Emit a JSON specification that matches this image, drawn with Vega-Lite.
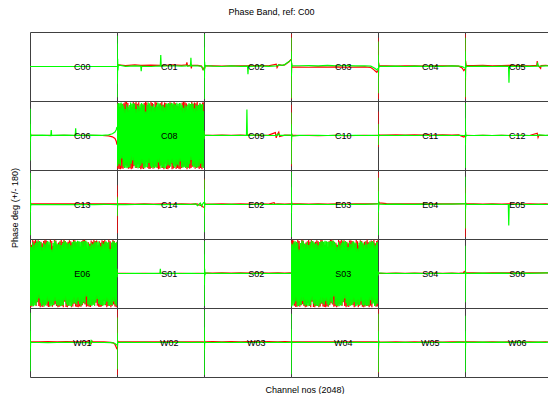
{
"$schema":"https://vega.github.io/schema/vega-lite/v6.json",
"padding":{"left":10,"top":7,"right":0,"bottom":0},
"title":{"text":"Phase Band, ref: C00","anchor":"middle","offset":5,"dx":-10},
"vconcat":[{
"title":{"text":"Phase deg (+/- 180)","orient":"left","offset":10,"anchor":"middle"},
"vconcat":[{
"title":{"text":"Channel nos (2048)","orient":"bottom","offset":8,"dx":14,"anchor":"middle"},
"data":{"values":[
{"p":"C00","c":0,"r":null,"g":0},{"p":"C00","c":700,"r":null,"g":0},{"p":"C00","c":1400,"r":null,"g":0},{"p":"C00","c":2047,"r":null,"g":0},
{"p":"C01","c":0,"r":30,"g":160},{"p":"C01","c":3,"r":-40,"g":-160},{"p":"C01","c":6,"r":20,"g":120},{"p":"C01","c":10,"r":-10,"g":-90},{"p":"C01","c":15,"r":10,"g":40},{"p":"C01","c":22,"r":6,"g":-20},{"p":"C01","c":32,"r":8,"g":8},{"p":"C01","c":200,"r":5,"g":1},{"p":"C01","c":420,"r":8,"g":3},{"p":"C01","c":560,"r":6,"g":2},{"p":"C01","c":570,"r":6,"g":-25},{"p":"C01","c":580,"r":6,"g":2},{"p":"C01","c":800,"r":7,"g":0},{"p":"C01","c":1020,"r":6,"g":3},{"p":"C01","c":1030,"r":7,"g":60},{"p":"C01","c":1040,"r":5,"g":2},{"p":"C01","c":1300,"r":8,"g":4},{"p":"C01","c":1520,"r":6,"g":2},{"p":"C01","c":1630,"r":8,"g":3},{"p":"C01","c":1645,"r":22,"g":6},{"p":"C01","c":1660,"r":4,"g":2},{"p":"C01","c":1730,"r":7,"g":3},{"p":"C01","c":1740,"r":8,"g":45},{"p":"C01","c":1750,"r":-10,"g":3},{"p":"C01","c":1760,"r":6,"g":3},{"p":"C01","c":1900,"r":6,"g":4},{"p":"C01","c":1990,"r":2,"g":1},{"p":"C01","c":2020,"r":-15,"g":-12},{"p":"C01","c":2047,"r":-5,"g":-20},
{"p":"C02","c":0,"r":60,"g":170},{"p":"C02","c":3,"r":-50,"g":-170},{"p":"C02","c":6,"r":30,"g":100},{"p":"C02","c":10,"r":-20,"g":-60},{"p":"C02","c":15,"r":10,"g":25},{"p":"C02","c":22,"r":4,"g":-10},{"p":"C02","c":32,"r":3,"g":5},{"p":"C02","c":200,"r":4,"g":2},{"p":"C02","c":420,"r":2,"g":0},{"p":"C02","c":640,"r":4,"g":3},{"p":"C02","c":860,"r":3,"g":1},{"p":"C02","c":1025,"r":4,"g":2},{"p":"C02","c":1035,"r":3,"g":-40},{"p":"C02","c":1045,"r":4,"g":1},{"p":"C02","c":1300,"r":5,"g":3},{"p":"C02","c":1520,"r":3,"g":1},{"p":"C02","c":1700,"r":12,"g":3},{"p":"C02","c":1720,"r":-6,"g":4},{"p":"C02","c":1760,"r":10,"g":8},{"p":"C02","c":1840,"r":6,"g":6},{"p":"C02","c":1900,"r":8,"g":10},{"p":"C02","c":1960,"r":18,"g":20},{"p":"C02","c":2010,"r":26,"g":28},{"p":"C02","c":2047,"r":38,"g":34},
{"p":"C03","c":0,"r":170,"g":150},{"p":"C03","c":3,"r":-170,"g":-165},{"p":"C03","c":6,"r":90,"g":80},{"p":"C03","c":10,"r":-40,"g":-50},{"p":"C03","c":15,"r":15,"g":20},{"p":"C03","c":22,"r":-5,"g":0},{"p":"C03","c":32,"r":-2,"g":5},{"p":"C03","c":200,"r":-3,"g":4},{"p":"C03","c":420,"r":-4,"g":5},{"p":"C03","c":640,"r":-2,"g":3},{"p":"C03","c":860,"r":-3,"g":6},{"p":"C03","c":1080,"r":-2,"g":4},{"p":"C03","c":1300,"r":-4,"g":5},{"p":"C03","c":1520,"r":-3,"g":3},{"p":"C03","c":1740,"r":-2,"g":4},{"p":"C03","c":1880,"r":-5,"g":2},{"p":"C03","c":1940,"r":-15,"g":-5},{"p":"C03","c":1990,"r":-25,"g":-12},{"p":"C03","c":2020,"r":-30,"g":-18},{"p":"C03","c":2047,"r":-20,"g":-10},
{"p":"C04","c":0,"r":150,"g":130},{"p":"C04","c":3,"r":-170,"g":-140},{"p":"C04","c":6,"r":100,"g":60},{"p":"C04","c":10,"r":-60,"g":-40},{"p":"C04","c":15,"r":20,"g":15},{"p":"C04","c":22,"r":5,"g":-5},{"p":"C04","c":32,"r":3,"g":2},{"p":"C04","c":200,"r":4,"g":1},{"p":"C04","c":420,"r":2,"g":2},{"p":"C04","c":640,"r":3,"g":0},{"p":"C04","c":860,"r":4,"g":2},{"p":"C04","c":1080,"r":2,"g":1},{"p":"C04","c":1300,"r":3,"g":2},{"p":"C04","c":1520,"r":4,"g":1},{"p":"C04","c":1740,"r":3,"g":3},{"p":"C04","c":1900,"r":2,"g":2},{"p":"C04","c":1980,"r":-8,"g":0},{"p":"C04","c":2020,"r":-22,"g":-5},{"p":"C04","c":2047,"r":-12,"g":-8},
{"p":"C05","c":0,"r":170,"g":150},{"p":"C05","c":3,"r":-170,"g":-160},{"p":"C05","c":6,"r":120,"g":80},{"p":"C05","c":10,"r":-80,"g":-60},{"p":"C05","c":15,"r":30,"g":20},{"p":"C05","c":22,"r":10,"g":-5},{"p":"C05","c":32,"r":6,"g":2},{"p":"C05","c":200,"r":5,"g":1},{"p":"C05","c":420,"r":6,"g":2},{"p":"C05","c":640,"r":4,"g":0},{"p":"C05","c":860,"r":5,"g":2},{"p":"C05","c":1025,"r":6,"g":1},{"p":"C05","c":1035,"r":5,"g":-85},{"p":"C05","c":1045,"r":6,"g":1},{"p":"C05","c":1300,"r":5,"g":2},{"p":"C05","c":1520,"r":4,"g":1},{"p":"C05","c":1690,"r":6,"g":2},{"p":"C05","c":1700,"r":28,"g":3},{"p":"C05","c":1710,"r":5,"g":20},{"p":"C05","c":1720,"r":6,"g":2},{"p":"C05","c":1780,"r":-10,"g":1},{"p":"C05","c":1790,"r":5,"g":2},{"p":"C05","c":1900,"r":6,"g":3},{"p":"C05","c":2047,"r":4,"g":3},
{"p":"C06","c":0,"r":20,"g":140},{"p":"C06","c":3,"r":-20,"g":-130},{"p":"C06","c":6,"r":10,"g":60},{"p":"C06","c":10,"r":-5,"g":-30},{"p":"C06","c":15,"r":2,"g":10},{"p":"C06","c":22,"r":1,"g":-3},{"p":"C06","c":32,"r":1,"g":1},{"p":"C06","c":300,"r":0,"g":2},{"p":"C06","c":490,"r":1,"g":0},{"p":"C06","c":500,"r":1,"g":28},{"p":"C06","c":510,"r":0,"g":1},{"p":"C06","c":800,"r":1,"g":2},{"p":"C06","c":1065,"r":0,"g":1},{"p":"C06","c":1075,"r":1,"g":38},{"p":"C06","c":1085,"r":1,"g":0},{"p":"C06","c":1400,"r":1,"g":2},{"p":"C06","c":1700,"r":0,"g":1},{"p":"C06","c":1850,"r":-2,"g":3},{"p":"C06","c":1940,"r":-7,"g":9},{"p":"C06","c":2000,"r":-15,"g":18},{"p":"C06","c":2030,"r":-30,"g":30},{"p":"C06","c":2047,"r":-48,"g":45},
{"p":"C08","c":0,"r":170,"g":165},{"p":"C08","c":16,"r":-172,"g":-160},{"p":"C08","c":32,"r":160,"g":170},{"p":"C08","c":48,"r":-175,"g":-150},{"p":"C08","c":64,"r":150,"g":168},{"p":"C08","c":80,"r":-176,"g":-158},{"p":"C08","c":96,"r":165,"g":172},{"p":"C08","c":112,"r":-172,"g":-120},{"p":"C08","c":128,"r":140,"g":166},{"p":"C08","c":144,"r":-174,"g":-162},{"p":"C08","c":160,"r":168,"g":155},{"p":"C08","c":176,"r":-160,"g":-170},{"p":"C08","c":192,"r":175,"g":140},{"p":"C08","c":208,"r":-155,"g":-168},{"p":"C08","c":224,"r":176,"g":163},{"p":"C08","c":240,"r":-162,"g":-171},{"p":"C08","c":256,"r":170,"g":150},{"p":"C08","c":272,"r":-174,"g":-167},{"p":"C08","c":288,"r":130,"g":159},{"p":"C08","c":304,"r":-171,"g":-165},{"p":"C08","c":320,"r":160,"g":172},{"p":"C08","c":336,"r":-176,"g":-148},{"p":"C08","c":352,"r":150,"g":166},{"p":"C08","c":368,"r":-172,"g":-130},{"p":"C08","c":384,"r":175,"g":170},{"p":"C08","c":400,"r":-160,"g":-155},{"p":"C08","c":416,"r":168,"g":164},{"p":"C08","c":432,"r":-155,"g":-169},{"p":"C08","c":448,"r":175,"g":138},{"p":"C08","c":464,"r":-170,"g":-166},{"p":"C08","c":480,"r":166,"g":160},{"p":"C08","c":496,"r":-150,"g":-172},{"p":"C08","c":512,"r":174,"g":152},{"p":"C08","c":528,"r":-170,"g":-167},{"p":"C08","c":544,"r":145,"g":163},{"p":"C08","c":560,"r":-176,"g":-158},{"p":"C08","c":576,"r":165,"g":170},{"p":"C08","c":592,"r":-172,"g":-146},{"p":"C08","c":608,"r":158,"g":165},{"p":"C08","c":624,"r":-175,"g":-168},{"p":"C08","c":640,"r":170,"g":161},{"p":"C08","c":656,"r":-162,"g":-171},{"p":"C08","c":672,"r":176,"g":125},{"p":"C08","c":688,"r":-140,"g":-166},{"p":"C08","c":704,"r":172,"g":159},{"p":"C08","c":720,"r":-168,"g":-164},{"p":"C08","c":736,"r":160,"g":172},{"p":"C08","c":752,"r":-175,"g":-143},{"p":"C08","c":768,"r":150,"g":168},{"p":"C08","c":784,"r":-173,"g":-162},{"p":"C08","c":800,"r":176,"g":157},{"p":"C08","c":816,"r":-158,"g":-170},{"p":"C08","c":832,"r":170,"g":153},{"p":"C08","c":848,"r":-174,"g":-166},{"p":"C08","c":864,"r":145,"g":164},{"p":"C08","c":880,"r":-166,"g":-171},{"p":"C08","c":896,"r":176,"g":149},{"p":"C08","c":912,"r":-160,"g":-167},{"p":"C08","c":928,"r":172,"g":160},{"p":"C08","c":944,"r":-170,"g":-165},{"p":"C08","c":960,"r":150,"g":172},{"p":"C08","c":976,"r":-176,"g":-141},{"p":"C08","c":992,"r":162,"g":168},{"p":"C08","c":1008,"r":-174,"g":-158},{"p":"C08","c":1024,"r":168,"g":163},{"p":"C08","c":1040,"r":-155,"g":-170},{"p":"C08","c":1056,"r":175,"g":155},{"p":"C08","c":1072,"r":-170,"g":-166},{"p":"C08","c":1088,"r":160,"g":161},{"p":"C08","c":1104,"r":-176,"g":-169},{"p":"C08","c":1120,"r":172,"g":147},{"p":"C08","c":1136,"r":-148,"g":-172},{"p":"C08","c":1152,"r":170,"g":164},{"p":"C08","c":1168,"r":-175,"g":-160},{"p":"C08","c":1184,"r":158,"g":167},{"p":"C08","c":1200,"r":-176,"g":-152},{"p":"C08","c":1216,"r":165,"g":170},{"p":"C08","c":1232,"r":-170,"g":-158},{"p":"C08","c":1248,"r":174,"g":166},{"p":"C08","c":1264,"r":-150,"g":-163},{"p":"C08","c":1280,"r":168,"g":171},{"p":"C08","c":1296,"r":-176,"g":-145},{"p":"C08","c":1312,"r":160,"g":168},{"p":"C08","c":1328,"r":-172,"g":-160},{"p":"C08","c":1344,"r":175,"g":165},{"p":"C08","c":1360,"r":-158,"g":-170},{"p":"C08","c":1376,"r":168,"g":162},{"p":"C08","c":1392,"r":-175,"g":-163},{"p":"C08","c":1408,"r":158,"g":171},{"p":"C08","c":1424,"r":-170,"g":-152},{"p":"C08","c":1440,"r":152,"g":166},{"p":"C08","c":1456,"r":-174,"g":-160},{"p":"C08","c":1472,"r":168,"g":170},{"p":"C08","c":1488,"r":-176,"g":-135},{"p":"C08","c":1504,"r":145,"g":168},{"p":"C08","c":1520,"r":-170,"g":-165},{"p":"C08","c":1536,"r":172,"g":158},{"p":"C08","c":1552,"r":-163,"g":-168},{"p":"C08","c":1568,"r":176,"g":145},{"p":"C08","c":1584,"r":-158,"g":-166},{"p":"C08","c":1600,"r":174,"g":160},{"p":"C08","c":1616,"r":-165,"g":-170},{"p":"C08","c":1632,"r":168,"g":152},{"p":"C08","c":1648,"r":-176,"g":-165},{"p":"C08","c":1664,"r":135,"g":162},{"p":"C08","c":1680,"r":-168,"g":-168},{"p":"C08","c":1696,"r":163,"g":170},{"p":"C08","c":1712,"r":-174,"g":-150},{"p":"C08","c":1728,"r":155,"g":164},{"p":"C08","c":1744,"r":-170,"g":-128},{"p":"C08","c":1760,"r":176,"g":168},{"p":"C08","c":1776,"r":-163,"g":-158},{"p":"C08","c":1792,"r":165,"g":166},{"p":"C08","c":1808,"r":-158,"g":-167},{"p":"C08","c":1824,"r":172,"g":142},{"p":"C08","c":1840,"r":-173,"g":-164},{"p":"C08","c":1856,"r":168,"g":162},{"p":"C08","c":1872,"r":-152,"g":-170},{"p":"C08","c":1888,"r":176,"g":155},{"p":"C08","c":1904,"r":-168,"g":-165},{"p":"C08","c":1920,"r":148,"g":160},{"p":"C08","c":1936,"r":-175,"g":-161},{"p":"C08","c":1952,"r":168,"g":168},{"p":"C08","c":1968,"r":-170,"g":-148},{"p":"C08","c":1984,"r":160,"g":163},{"p":"C08","c":2000,"r":-176,"g":-166},{"p":"C08","c":2016,"r":172,"g":164},{"p":"C08","c":2032,"r":-160,"g":-169},{"p":"C08","c":2047,"r":174,"g":128},
{"p":"C09","c":0,"r":15,"g":25},{"p":"C09","c":3,"r":-10,"g":-20},{"p":"C09","c":6,"r":5,"g":10},{"p":"C09","c":10,"r":2,"g":-5},{"p":"C09","c":15,"r":1,"g":2},{"p":"C09","c":200,"r":1,"g":0},{"p":"C09","c":420,"r":2,"g":1},{"p":"C09","c":640,"r":1,"g":0},{"p":"C09","c":860,"r":2,"g":1},{"p":"C09","c":1000,"r":1,"g":0},{"p":"C09","c":1010,"r":1,"g":135},{"p":"C09","c":1020,"r":2,"g":1},{"p":"C09","c":1300,"r":1,"g":2},{"p":"C09","c":1520,"r":2,"g":0},{"p":"C09","c":1680,"r":15,"g":1},{"p":"C09","c":1700,"r":-12,"g":2},{"p":"C09","c":1720,"r":3,"g":0},{"p":"C09","c":1760,"r":18,"g":8},{"p":"C09","c":1780,"r":-5,"g":1},{"p":"C09","c":1900,"r":2,"g":1},{"p":"C09","c":2047,"r":1,"g":2},
{"p":"C10","c":0,"r":160,"g":120},{"p":"C10","c":3,"r":-160,"g":-150},{"p":"C10","c":6,"r":80,"g":60},{"p":"C10","c":10,"r":-40,"g":-30},{"p":"C10","c":15,"r":10,"g":10},{"p":"C10","c":22,"r":2,"g":-3},{"p":"C10","c":200,"r":0,"g":1},{"p":"C10","c":420,"r":1,"g":0},{"p":"C10","c":640,"r":-1,"g":1},{"p":"C10","c":860,"r":0,"g":0},{"p":"C10","c":1080,"r":1,"g":1},{"p":"C10","c":1300,"r":-1,"g":0},{"p":"C10","c":1520,"r":0,"g":1},{"p":"C10","c":1740,"r":1,"g":0},{"p":"C10","c":1900,"r":0,"g":1},{"p":"C10","c":2047,"r":1,"g":0},
{"p":"C11","c":0,"r":125,"g":60},{"p":"C11","c":3,"r":-60,"g":-50},{"p":"C11","c":6,"r":40,"g":30},{"p":"C11","c":10,"r":-15,"g":-10},{"p":"C11","c":15,"r":5,"g":5},{"p":"C11","c":22,"r":2,"g":0},{"p":"C11","c":200,"r":2,"g":1},{"p":"C11","c":420,"r":3,"g":0},{"p":"C11","c":640,"r":2,"g":1},{"p":"C11","c":860,"r":3,"g":0},{"p":"C11","c":1080,"r":2,"g":1},{"p":"C11","c":1200,"r":6,"g":0},{"p":"C11","c":1215,"r":-3,"g":1},{"p":"C11","c":1300,"r":2,"g":0},{"p":"C11","c":1520,"r":3,"g":1},{"p":"C11","c":1740,"r":2,"g":0},{"p":"C11","c":1900,"r":3,"g":1},{"p":"C11","c":2020,"r":-8,"g":0},{"p":"C11","c":2047,"r":-4,"g":1},
{"p":"C12","c":0,"r":40,"g":170},{"p":"C12","c":3,"r":-30,"g":-170},{"p":"C12","c":6,"r":15,"g":90},{"p":"C12","c":10,"r":-5,"g":-50},{"p":"C12","c":15,"r":2,"g":20},{"p":"C12","c":22,"r":1,"g":-5},{"p":"C12","c":32,"r":1,"g":1},{"p":"C12","c":200,"r":0,"g":0},{"p":"C12","c":420,"r":1,"g":1},{"p":"C12","c":640,"r":0,"g":0},{"p":"C12","c":860,"r":1,"g":1},{"p":"C12","c":1080,"r":0,"g":0},{"p":"C12","c":1300,"r":1,"g":1},{"p":"C12","c":1520,"r":0,"g":0},{"p":"C12","c":1700,"r":12,"g":1},{"p":"C12","c":1720,"r":-10,"g":0},{"p":"C12","c":1740,"r":1,"g":3},{"p":"C12","c":1900,"r":0,"g":1},{"p":"C12","c":2047,"r":1,"g":0},
{"p":"C13","c":0,"r":30,"g":165},{"p":"C13","c":3,"r":-30,"g":-160},{"p":"C13","c":6,"r":15,"g":80},{"p":"C13","c":10,"r":-8,"g":-40},{"p":"C13","c":15,"r":4,"g":10},{"p":"C13","c":22,"r":3,"g":-3},{"p":"C13","c":32,"r":3,"g":0},{"p":"C13","c":200,"r":3,"g":-1},{"p":"C13","c":420,"r":4,"g":0},{"p":"C13","c":640,"r":3,"g":-1},{"p":"C13","c":860,"r":4,"g":0},{"p":"C13","c":1080,"r":3,"g":-1},{"p":"C13","c":1300,"r":4,"g":0},{"p":"C13","c":1520,"r":3,"g":-1},{"p":"C13","c":1740,"r":4,"g":1},{"p":"C13","c":1900,"r":3,"g":0},{"p":"C13","c":2047,"r":3,"g":-1},
{"p":"C14","c":0,"r":100,"g":40},{"p":"C14","c":3,"r":-150,"g":-60},{"p":"C14","c":6,"r":60,"g":30},{"p":"C14","c":10,"r":-20,"g":-15},{"p":"C14","c":15,"r":6,"g":5},{"p":"C14","c":22,"r":3,"g":0},{"p":"C14","c":200,"r":3,"g":-1},{"p":"C14","c":420,"r":2,"g":0},{"p":"C14","c":640,"r":3,"g":1},{"p":"C14","c":860,"r":2,"g":0},{"p":"C14","c":1080,"r":3,"g":-1},{"p":"C14","c":1300,"r":2,"g":0},{"p":"C14","c":1520,"r":3,"g":1},{"p":"C14","c":1740,"r":2,"g":0},{"p":"C14","c":1850,"r":3,"g":3},{"p":"C14","c":1900,"r":2,"g":-6},{"p":"C14","c":1960,"r":-5,"g":8},{"p":"C14","c":1990,"r":-3,"g":-8},{"p":"C14","c":2020,"r":-12,"g":4},{"p":"C14","c":2047,"r":-15,"g":12},
{"p":"E02","c":0,"r":135,"g":130},{"p":"E02","c":3,"r":-60,"g":-145},{"p":"E02","c":6,"r":40,"g":80},{"p":"E02","c":10,"r":-15,"g":-40},{"p":"E02","c":15,"r":5,"g":12},{"p":"E02","c":22,"r":2,"g":0},{"p":"E02","c":200,"r":2,"g":1},{"p":"E02","c":420,"r":3,"g":0},{"p":"E02","c":640,"r":2,"g":1},{"p":"E02","c":860,"r":3,"g":0},{"p":"E02","c":1080,"r":2,"g":0},{"p":"E02","c":1300,"r":3,"g":1},{"p":"E02","c":1520,"r":2,"g":0},{"p":"E02","c":1650,"r":10,"g":1},{"p":"E02","c":1670,"r":2,"g":0},{"p":"E02","c":1740,"r":3,"g":1},{"p":"E02","c":1900,"r":2,"g":0},{"p":"E02","c":2047,"r":3,"g":1},
{"p":"E03","c":0,"r":40,"g":170},{"p":"E03","c":3,"r":-40,"g":-170},{"p":"E03","c":6,"r":20,"g":90},{"p":"E03","c":10,"r":-10,"g":-45},{"p":"E03","c":15,"r":5,"g":15},{"p":"E03","c":22,"r":3,"g":0},{"p":"E03","c":200,"r":3,"g":1},{"p":"E03","c":420,"r":2,"g":0},{"p":"E03","c":640,"r":3,"g":1},{"p":"E03","c":860,"r":2,"g":0},{"p":"E03","c":1080,"r":3,"g":1},{"p":"E03","c":1300,"r":2,"g":0},{"p":"E03","c":1520,"r":3,"g":1},{"p":"E03","c":1740,"r":4,"g":1},{"p":"E03","c":1900,"r":3,"g":2},{"p":"E03","c":2047,"r":4,"g":3},
{"p":"E04","c":0,"r":170,"g":140},{"p":"E04","c":3,"r":-110,"g":-160},{"p":"E04","c":6,"r":80,"g":70},{"p":"E04","c":10,"r":-30,"g":-40},{"p":"E04","c":15,"r":15,"g":15},{"p":"E04","c":22,"r":10,"g":3},{"p":"E04","c":32,"r":8,"g":2},{"p":"E04","c":200,"r":5,"g":1},{"p":"E04","c":420,"r":4,"g":2},{"p":"E04","c":640,"r":3,"g":1},{"p":"E04","c":860,"r":4,"g":1},{"p":"E04","c":1080,"r":3,"g":2},{"p":"E04","c":1300,"r":4,"g":1},{"p":"E04","c":1520,"r":3,"g":2},{"p":"E04","c":1740,"r":4,"g":2},{"p":"E04","c":1900,"r":3,"g":3},{"p":"E04","c":2047,"r":4,"g":3},
{"p":"E05","c":0,"r":90,"g":145},{"p":"E05","c":3,"r":-170,"g":-125},{"p":"E05","c":6,"r":60,"g":60},{"p":"E05","c":10,"r":-25,"g":-30},{"p":"E05","c":15,"r":8,"g":10},{"p":"E05","c":22,"r":3,"g":0},{"p":"E05","c":200,"r":3,"g":1},{"p":"E05","c":420,"r":2,"g":0},{"p":"E05","c":640,"r":3,"g":1},{"p":"E05","c":860,"r":2,"g":0},{"p":"E05","c":1020,"r":3,"g":0},{"p":"E05","c":1030,"r":2,"g":-110},{"p":"E05","c":1040,"r":3,"g":0},{"p":"E05","c":1300,"r":2,"g":1},{"p":"E05","c":1520,"r":3,"g":0},{"p":"E05","c":1740,"r":2,"g":1},{"p":"E05","c":1900,"r":3,"g":0},{"p":"E05","c":2047,"r":2,"g":1},
{"p":"E06","c":0,"r":160,"g":155},{"p":"E06","c":16,"r":-176,"g":-170},{"p":"E06","c":32,"r":150,"g":140},{"p":"E06","c":48,"r":-172,"g":-168},{"p":"E06","c":64,"r":175,"g":163},{"p":"E06","c":80,"r":-160,"g":-171},{"p":"E06","c":96,"r":168,"g":150},{"p":"E06","c":112,"r":-155,"g":-167},{"p":"E06","c":128,"r":175,"g":159},{"p":"E06","c":144,"r":-170,"g":-165},{"p":"E06","c":160,"r":166,"g":172},{"p":"E06","c":176,"r":-150,"g":-148},{"p":"E06","c":192,"r":174,"g":166},{"p":"E06","c":208,"r":-170,"g":-130},{"p":"E06","c":224,"r":145,"g":170},{"p":"E06","c":240,"r":-176,"g":-155},{"p":"E06","c":256,"r":165,"g":164},{"p":"E06","c":272,"r":-172,"g":-169},{"p":"E06","c":288,"r":158,"g":138},{"p":"E06","c":304,"r":-175,"g":-166},{"p":"E06","c":320,"r":170,"g":160},{"p":"E06","c":336,"r":-162,"g":-172},{"p":"E06","c":352,"r":176,"g":152},{"p":"E06","c":368,"r":-140,"g":-167},{"p":"E06","c":384,"r":172,"g":163},{"p":"E06","c":400,"r":-168,"g":-158},{"p":"E06","c":416,"r":160,"g":170},{"p":"E06","c":432,"r":-175,"g":-146},{"p":"E06","c":448,"r":150,"g":165},{"p":"E06","c":464,"r":-173,"g":-168},{"p":"E06","c":480,"r":176,"g":161},{"p":"E06","c":496,"r":-158,"g":-171},{"p":"E06","c":512,"r":170,"g":125},{"p":"E06","c":528,"r":-174,"g":-166},{"p":"E06","c":544,"r":145,"g":159},{"p":"E06","c":560,"r":-166,"g":-164},{"p":"E06","c":576,"r":176,"g":172},{"p":"E06","c":592,"r":-160,"g":-143},{"p":"E06","c":608,"r":172,"g":168},{"p":"E06","c":624,"r":-170,"g":-162},{"p":"E06","c":640,"r":150,"g":157},{"p":"E06","c":656,"r":-176,"g":-170},{"p":"E06","c":672,"r":162,"g":153},{"p":"E06","c":688,"r":-174,"g":-166},{"p":"E06","c":704,"r":168,"g":164},{"p":"E06","c":720,"r":-155,"g":-171},{"p":"E06","c":736,"r":175,"g":149},{"p":"E06","c":752,"r":-170,"g":-167},{"p":"E06","c":768,"r":165,"g":160},{"p":"E06","c":784,"r":-176,"g":-165},{"p":"E06","c":800,"r":176,"g":172},{"p":"E06","c":816,"r":-148,"g":-141},{"p":"E06","c":832,"r":170,"g":168},{"p":"E06","c":848,"r":-175,"g":-158},{"p":"E06","c":864,"r":158,"g":163},{"p":"E06","c":880,"r":-176,"g":-170},{"p":"E06","c":896,"r":165,"g":155},{"p":"E06","c":912,"r":-170,"g":-166},{"p":"E06","c":928,"r":174,"g":161},{"p":"E06","c":944,"r":-150,"g":-169},{"p":"E06","c":960,"r":168,"g":147},{"p":"E06","c":976,"r":-176,"g":-172},{"p":"E06","c":992,"r":160,"g":164},{"p":"E06","c":1008,"r":-172,"g":-160},{"p":"E06","c":1024,"r":175,"g":167},{"p":"E06","c":1040,"r":-158,"g":-152},{"p":"E06","c":1056,"r":174,"g":170},{"p":"E06","c":1072,"r":-172,"g":-158},{"p":"E06","c":1088,"r":160,"g":166},{"p":"E06","c":1104,"r":-175,"g":-163},{"p":"E06","c":1120,"r":150,"g":171},{"p":"E06","c":1136,"r":-176,"g":-145},{"p":"E06","c":1152,"r":165,"g":168},{"p":"E06","c":1168,"r":-172,"g":-160},{"p":"E06","c":1184,"r":140,"g":165},{"p":"E06","c":1200,"r":-174,"g":-170},{"p":"E06","c":1216,"r":168,"g":165},{"p":"E06","c":1232,"r":-165,"g":-160},{"p":"E06","c":1248,"r":175,"g":170},{"p":"E06","c":1264,"r":-155,"g":-150},{"p":"E06","c":1280,"r":176,"g":168},{"p":"E06","c":1296,"r":-162,"g":-158},{"p":"E06","c":1312,"r":170,"g":172},{"p":"E06","c":1328,"r":-174,"g":-120},{"p":"E06","c":1344,"r":130,"g":166},{"p":"E06","c":1360,"r":-171,"g":-162},{"p":"E06","c":1376,"r":163,"g":158},{"p":"E06","c":1392,"r":-174,"g":-168},{"p":"E06","c":1408,"r":155,"g":145},{"p":"E06","c":1424,"r":-175,"g":-165},{"p":"E06","c":1440,"r":172,"g":160},{"p":"E06","c":1456,"r":-163,"g":-170},{"p":"E06","c":1472,"r":166,"g":153},{"p":"E06","c":1488,"r":-158,"g":-164},{"p":"E06","c":1504,"r":176,"g":162},{"p":"E06","c":1520,"r":-168,"g":-168},{"p":"E06","c":1536,"r":170,"g":168},{"p":"E06","c":1552,"r":-153,"g":-150},{"p":"E06","c":1568,"r":172,"g":163},{"p":"E06","c":1584,"r":-168,"g":-134},{"p":"E06","c":1600,"r":148,"g":168},{"p":"E06","c":1616,"r":-174,"g":-158},{"p":"E06","c":1632,"r":168,"g":162},{"p":"E06","c":1648,"r":-175,"g":-166},{"p":"E06","c":1664,"r":160,"g":142},{"p":"E06","c":1680,"r":-172,"g":-164},{"p":"E06","c":1696,"r":174,"g":163},{"p":"E06","c":1712,"r":-165,"g":-170},{"p":"E06","c":1728,"r":170,"g":155},{"p":"E06","c":1744,"r":-143,"g":-165},{"p":"E06","c":1760,"r":175,"g":166},{"p":"E06","c":1776,"r":-165,"g":-160},{"p":"E06","c":1792,"r":163,"g":168},{"p":"E06","c":1808,"r":-176,"g":-148},{"p":"E06","c":1824,"r":152,"g":162},{"p":"E06","c":1840,"r":-170,"g":-166},{"p":"E06","c":1856,"r":176,"g":164},{"p":"E06","c":1872,"r":-160,"g":-169},{"p":"E06","c":1888,"r":168,"g":128},{"p":"E06","c":1904,"r":-176,"g":-164},{"p":"E06","c":1920,"r":148,"g":162},{"p":"E06","c":1936,"r":-168,"g":-166},{"p":"E06","c":1952,"r":175,"g":170},{"p":"E06","c":1968,"r":-162,"g":-146},{"p":"E06","c":1984,"r":170,"g":166},{"p":"E06","c":2000,"r":-172,"g":-160},{"p":"E06","c":2016,"r":155,"g":160},{"p":"E06","c":2032,"r":-176,"g":-168},{"p":"E06","c":2047,"r":166,"g":165},
{"p":"S01","c":0,"r":10,"g":25},{"p":"S01","c":3,"r":-8,"g":-20},{"p":"S01","c":6,"r":3,"g":8},{"p":"S01","c":10,"r":1,"g":0},{"p":"S01","c":200,"r":1,"g":0},{"p":"S01","c":420,"r":0,"g":1},{"p":"S01","c":640,"r":1,"g":0},{"p":"S01","c":860,"r":0,"g":1},{"p":"S01","c":1010,"r":1,"g":0},{"p":"S01","c":1020,"r":0,"g":25},{"p":"S01","c":1030,"r":1,"g":0},{"p":"S01","c":1300,"r":0,"g":1},{"p":"S01","c":1520,"r":1,"g":0},{"p":"S01","c":1740,"r":0,"g":1},{"p":"S01","c":1900,"r":1,"g":0},{"p":"S01","c":2047,"r":0,"g":1},
{"p":"S02","c":0,"r":40,"g":170},{"p":"S02","c":3,"r":-50,"g":-170},{"p":"S02","c":6,"r":20,"g":100},{"p":"S02","c":10,"r":-10,"g":-60},{"p":"S02","c":15,"r":5,"g":25},{"p":"S02","c":22,"r":3,"g":-8},{"p":"S02","c":32,"r":2,"g":3},{"p":"S02","c":200,"r":2,"g":0},{"p":"S02","c":420,"r":3,"g":1},{"p":"S02","c":640,"r":2,"g":0},{"p":"S02","c":860,"r":3,"g":1},{"p":"S02","c":1080,"r":2,"g":0},{"p":"S02","c":1300,"r":3,"g":1},{"p":"S02","c":1520,"r":2,"g":0},{"p":"S02","c":1740,"r":3,"g":1},{"p":"S02","c":1900,"r":2,"g":0},{"p":"S02","c":2047,"r":3,"g":1},
{"p":"S03","c":0,"r":170,"g":160},{"p":"S03","c":16,"r":-162,"g":-172},{"p":"S03","c":32,"r":176,"g":152},{"p":"S03","c":48,"r":-140,"g":-167},{"p":"S03","c":64,"r":172,"g":163},{"p":"S03","c":80,"r":-168,"g":-158},{"p":"S03","c":96,"r":160,"g":170},{"p":"S03","c":112,"r":-175,"g":-146},{"p":"S03","c":128,"r":150,"g":165},{"p":"S03","c":144,"r":-173,"g":-168},{"p":"S03","c":160,"r":176,"g":161},{"p":"S03","c":176,"r":-158,"g":-171},{"p":"S03","c":192,"r":170,"g":125},{"p":"S03","c":208,"r":-174,"g":-166},{"p":"S03","c":224,"r":145,"g":159},{"p":"S03","c":240,"r":-166,"g":-164},{"p":"S03","c":256,"r":176,"g":172},{"p":"S03","c":272,"r":-160,"g":-143},{"p":"S03","c":288,"r":172,"g":168},{"p":"S03","c":304,"r":-170,"g":-162},{"p":"S03","c":320,"r":150,"g":157},{"p":"S03","c":336,"r":-176,"g":-170},{"p":"S03","c":352,"r":162,"g":153},{"p":"S03","c":368,"r":-174,"g":-166},{"p":"S03","c":384,"r":168,"g":164},{"p":"S03","c":400,"r":-155,"g":-171},{"p":"S03","c":416,"r":175,"g":149},{"p":"S03","c":432,"r":-170,"g":-167},{"p":"S03","c":448,"r":165,"g":160},{"p":"S03","c":464,"r":-176,"g":-165},{"p":"S03","c":480,"r":176,"g":172},{"p":"S03","c":496,"r":-148,"g":-141},{"p":"S03","c":512,"r":170,"g":168},{"p":"S03","c":528,"r":-175,"g":-158},{"p":"S03","c":544,"r":158,"g":163},{"p":"S03","c":560,"r":-176,"g":-170},{"p":"S03","c":576,"r":165,"g":155},{"p":"S03","c":592,"r":-170,"g":-166},{"p":"S03","c":608,"r":174,"g":161},{"p":"S03","c":624,"r":-150,"g":-169},{"p":"S03","c":640,"r":168,"g":147},{"p":"S03","c":656,"r":-176,"g":-172},{"p":"S03","c":672,"r":160,"g":164},{"p":"S03","c":688,"r":-172,"g":-160},{"p":"S03","c":704,"r":175,"g":167},{"p":"S03","c":720,"r":-158,"g":-152},{"p":"S03","c":736,"r":174,"g":170},{"p":"S03","c":752,"r":-172,"g":-158},{"p":"S03","c":768,"r":160,"g":166},{"p":"S03","c":784,"r":-175,"g":-163},{"p":"S03","c":800,"r":150,"g":171},{"p":"S03","c":816,"r":-176,"g":-145},{"p":"S03","c":832,"r":165,"g":168},{"p":"S03","c":848,"r":-172,"g":-160},{"p":"S03","c":864,"r":140,"g":165},{"p":"S03","c":880,"r":-174,"g":-170},{"p":"S03","c":896,"r":168,"g":165},{"p":"S03","c":912,"r":-165,"g":-160},{"p":"S03","c":928,"r":175,"g":170},{"p":"S03","c":944,"r":-155,"g":-150},{"p":"S03","c":960,"r":176,"g":168},{"p":"S03","c":976,"r":-162,"g":-158},{"p":"S03","c":992,"r":170,"g":172},{"p":"S03","c":1008,"r":-174,"g":-120},{"p":"S03","c":1024,"r":130,"g":166},{"p":"S03","c":1040,"r":-171,"g":-162},{"p":"S03","c":1056,"r":160,"g":155},{"p":"S03","c":1072,"r":-176,"g":-170},{"p":"S03","c":1088,"r":150,"g":140},{"p":"S03","c":1104,"r":-172,"g":-168},{"p":"S03","c":1120,"r":175,"g":163},{"p":"S03","c":1136,"r":-160,"g":-171},{"p":"S03","c":1152,"r":168,"g":150},{"p":"S03","c":1168,"r":-155,"g":-167},{"p":"S03","c":1184,"r":175,"g":159},{"p":"S03","c":1200,"r":-170,"g":-165},{"p":"S03","c":1216,"r":166,"g":172},{"p":"S03","c":1232,"r":-150,"g":-148},{"p":"S03","c":1248,"r":174,"g":166},{"p":"S03","c":1264,"r":-170,"g":-130},{"p":"S03","c":1280,"r":145,"g":170},{"p":"S03","c":1296,"r":-176,"g":-155},{"p":"S03","c":1312,"r":165,"g":164},{"p":"S03","c":1328,"r":-172,"g":-169},{"p":"S03","c":1344,"r":158,"g":138},{"p":"S03","c":1360,"r":-175,"g":-166},{"p":"S03","c":1376,"r":172,"g":163},{"p":"S03","c":1392,"r":-165,"g":-170},{"p":"S03","c":1408,"r":174,"g":155},{"p":"S03","c":1424,"r":-145,"g":-165},{"p":"S03","c":1440,"r":170,"g":166},{"p":"S03","c":1456,"r":-166,"g":-160},{"p":"S03","c":1472,"r":163,"g":168},{"p":"S03","c":1488,"r":-176,"g":-150},{"p":"S03","c":1504,"r":155,"g":162},{"p":"S03","c":1520,"r":-172,"g":-170},{"p":"S03","c":1536,"r":175,"g":158},{"p":"S03","c":1552,"r":-160,"g":-168},{"p":"S03","c":1568,"r":168,"g":130},{"p":"S03","c":1584,"r":-176,"g":-163},{"p":"S03","c":1600,"r":148,"g":161},{"p":"S03","c":1616,"r":-168,"g":-166},{"p":"S03","c":1632,"r":174,"g":170},{"p":"S03","c":1648,"r":-163,"g":-146},{"p":"S03","c":1664,"r":170,"g":166},{"p":"S03","c":1680,"r":-174,"g":-164},{"p":"S03","c":1696,"r":152,"g":160},{"p":"S03","c":1712,"r":-176,"g":-171},{"p":"S03","c":1728,"r":166,"g":150},{"p":"S03","c":1744,"r":-172,"g":-164},{"p":"S03","c":1760,"r":168,"g":166},{"p":"S03","c":1776,"r":-158,"g":-170},{"p":"S03","c":1792,"r":176,"g":152},{"p":"S03","c":1808,"r":-170,"g":-168},{"p":"S03","c":1824,"r":163,"g":158},{"p":"S03","c":1840,"r":-176,"g":-166},{"p":"S03","c":1856,"r":160,"g":168},{"p":"S03","c":1872,"r":-168,"g":-140},{"p":"S03","c":1888,"r":172,"g":165},{"p":"S03","c":1904,"r":-176,"g":-160},{"p":"S03","c":1920,"r":165,"g":170},{"p":"S03","c":1936,"r":-150,"g":-156},{"p":"S03","c":1952,"r":176,"g":162},{"p":"S03","c":1968,"r":-165,"g":-170},{"p":"S03","c":1984,"r":158,"g":148},{"p":"S03","c":2000,"r":-174,"g":-168},{"p":"S03","c":2016,"r":170,"g":163},{"p":"S03","c":2032,"r":-172,"g":-158},{"p":"S03","c":2047,"r":176,"g":166},
{"p":"S04","c":0,"r":8,"g":12},{"p":"S04","c":3,"r":-5,"g":-10},{"p":"S04","c":6,"r":2,"g":3},{"p":"S04","c":200,"r":1,"g":0},{"p":"S04","c":420,"r":2,"g":1},{"p":"S04","c":640,"r":1,"g":0},{"p":"S04","c":860,"r":2,"g":1},{"p":"S04","c":1080,"r":1,"g":0},{"p":"S04","c":1300,"r":2,"g":1},{"p":"S04","c":1520,"r":1,"g":0},{"p":"S04","c":1740,"r":2,"g":1},{"p":"S04","c":1900,"r":1,"g":0},{"p":"S04","c":2010,"r":3,"g":1},{"p":"S04","c":2030,"r":10,"g":2},{"p":"S04","c":2047,"r":5,"g":1},
{"p":"S06","c":0,"r":25,"g":145},{"p":"S06","c":3,"r":-10,"g":-150},{"p":"S06","c":6,"r":10,"g":70},{"p":"S06","c":10,"r":-5,"g":-35},{"p":"S06","c":15,"r":3,"g":10},{"p":"S06","c":22,"r":3,"g":0},{"p":"S06","c":200,"r":3,"g":1},{"p":"S06","c":420,"r":2,"g":2},{"p":"S06","c":640,"r":3,"g":1},{"p":"S06","c":860,"r":4,"g":2},{"p":"S06","c":1080,"r":3,"g":1},{"p":"S06","c":1300,"r":2,"g":2},{"p":"S06","c":1520,"r":3,"g":1},{"p":"S06","c":1740,"r":4,"g":2},{"p":"S06","c":1900,"r":3,"g":3},{"p":"S06","c":2047,"r":4,"g":3},
{"p":"W01","c":0,"r":30,"g":155},{"p":"W01","c":3,"r":-30,"g":-150},{"p":"W01","c":6,"r":15,"g":60},{"p":"W01","c":10,"r":-5,"g":-30},{"p":"W01","c":15,"r":4,"g":5},{"p":"W01","c":22,"r":4,"g":0},{"p":"W01","c":200,"r":4,"g":0},{"p":"W01","c":420,"r":5,"g":-1},{"p":"W01","c":640,"r":4,"g":0},{"p":"W01","c":860,"r":5,"g":1},{"p":"W01","c":1080,"r":4,"g":0},{"p":"W01","c":1300,"r":4,"g":-1},{"p":"W01","c":1400,"r":10,"g":0},{"p":"W01","c":1420,"r":2,"g":-8},{"p":"W01","c":1440,"r":-5,"g":10},{"p":"W01","c":1460,"r":8,"g":2},{"p":"W01","c":1480,"r":4,"g":0},{"p":"W01","c":1740,"r":3,"g":0},{"p":"W01","c":1900,"r":1,"g":-1},{"p":"W01","c":1960,"r":-2,"g":-2},{"p":"W01","c":2000,"r":-10,"g":-5},{"p":"W01","c":2030,"r":-25,"g":-10},{"p":"W01","c":2047,"r":-35,"g":-15},
{"p":"W02","c":0,"r":170,"g":130},{"p":"W02","c":3,"r":-170,"g":-140},{"p":"W02","c":6,"r":70,"g":50},{"p":"W02","c":10,"r":-30,"g":-20},{"p":"W02","c":15,"r":10,"g":5},{"p":"W02","c":22,"r":3,"g":0},{"p":"W02","c":200,"r":3,"g":1},{"p":"W02","c":420,"r":4,"g":0},{"p":"W02","c":640,"r":3,"g":1},{"p":"W02","c":860,"r":4,"g":0},{"p":"W02","c":1080,"r":3,"g":1},{"p":"W02","c":1300,"r":4,"g":0},{"p":"W02","c":1520,"r":3,"g":1},{"p":"W02","c":1740,"r":4,"g":0},{"p":"W02","c":1900,"r":3,"g":1},{"p":"W02","c":2047,"r":4,"g":0},
{"p":"W03","c":0,"r":40,"g":170},{"p":"W03","c":3,"r":-40,"g":-170},{"p":"W03","c":6,"r":20,"g":80},{"p":"W03","c":10,"r":-10,"g":-40},{"p":"W03","c":15,"r":4,"g":10},{"p":"W03","c":22,"r":4,"g":0},{"p":"W03","c":200,"r":5,"g":0},{"p":"W03","c":420,"r":4,"g":1},{"p":"W03","c":640,"r":5,"g":0},{"p":"W03","c":860,"r":4,"g":1},{"p":"W03","c":1080,"r":5,"g":0},{"p":"W03","c":1300,"r":4,"g":1},{"p":"W03","c":1520,"r":5,"g":0},{"p":"W03","c":1740,"r":4,"g":1},{"p":"W03","c":1900,"r":5,"g":0},{"p":"W03","c":2047,"r":4,"g":1},
{"p":"W04","c":0,"r":30,"g":150},{"p":"W04","c":3,"r":-30,"g":-165},{"p":"W04","c":6,"r":15,"g":70},{"p":"W04","c":10,"r":-8,"g":-35},{"p":"W04","c":15,"r":3,"g":8},{"p":"W04","c":22,"r":3,"g":0},{"p":"W04","c":200,"r":3,"g":1},{"p":"W04","c":420,"r":4,"g":0},{"p":"W04","c":640,"r":3,"g":1},{"p":"W04","c":860,"r":4,"g":0},{"p":"W04","c":1080,"r":3,"g":1},{"p":"W04","c":1300,"r":4,"g":0},{"p":"W04","c":1520,"r":3,"g":1},{"p":"W04","c":1740,"r":4,"g":0},{"p":"W04","c":1900,"r":3,"g":1},{"p":"W04","c":2047,"r":4,"g":0},
{"p":"W05","c":0,"r":175,"g":150},{"p":"W05","c":3,"r":-160,"g":-155},{"p":"W05","c":6,"r":80,"g":60},{"p":"W05","c":10,"r":-40,"g":-30},{"p":"W05","c":15,"r":10,"g":8},{"p":"W05","c":22,"r":2,"g":0},{"p":"W05","c":200,"r":2,"g":1},{"p":"W05","c":420,"r":3,"g":0},{"p":"W05","c":640,"r":2,"g":1},{"p":"W05","c":860,"r":3,"g":0},{"p":"W05","c":1080,"r":2,"g":1},{"p":"W05","c":1300,"r":3,"g":0},{"p":"W05","c":1520,"r":2,"g":1},{"p":"W05","c":1740,"r":3,"g":0},{"p":"W05","c":1900,"r":4,"g":2},{"p":"W05","c":2047,"r":3,"g":1},
{"p":"W06","c":0,"r":25,"g":140},{"p":"W06","c":3,"r":-15,"g":-155},{"p":"W06","c":6,"r":10,"g":60},{"p":"W06","c":10,"r":-5,"g":-30},{"p":"W06","c":15,"r":8,"g":5},{"p":"W06","c":22,"r":3,"g":1},{"p":"W06","c":200,"r":3,"g":1},{"p":"W06","c":420,"r":2,"g":2},{"p":"W06","c":640,"r":3,"g":1},{"p":"W06","c":860,"r":2,"g":2},{"p":"W06","c":1080,"r":3,"g":1},{"p":"W06","c":1300,"r":2,"g":2},{"p":"W06","c":1520,"r":3,"g":1},{"p":"W06","c":1740,"r":2,"g":2},{"p":"W06","c":1900,"r":3,"g":1},{"p":"W06","c":2047,"r":2,"g":3}
]},
"facet":{"field":"p","type":"nominal","title":null,"header":{"labels":false,"title":null,"labelPadding":0,"titlePadding":0,"labelExpr":"''"}},
"columns":6,
"spacing":0,
"bounds":"flush",
"spec":{
"width":87,"height":69,
"layer":[
{"mark":{"type":"line","color":"#ff0000","strokeWidth":1.2,"clip":true},
 "encoding":{"x":{"field":"c","type":"quantitative","scale":{"domain":[0,2048],"nice":false,"zero":false},"axis":null},
             "y":{"field":"r","type":"quantitative","scale":{"domain":[-180,180],"nice":false},"axis":null}}},
{"mark":{"type":"line","color":"#00ff00","strokeWidth":1.2,"clip":true},
 "encoding":{"x":{"field":"c","type":"quantitative","axis":null},
             "y":{"field":"g","type":"quantitative","axis":null}}},
{"transform":[{"aggregate":[{"op":"count","as":"n"}],"groupby":["p"]}],
 "mark":{"type":"text","font":"Liberation Sans","fontSize":9,"color":"#000","align":"center","baseline":"middle"},
 "encoding":{"x":{"datum":1230},"y":{"datum":0},"text":{"field":"p","type":"nominal"}}}
]}
}]
}],
"config":{
"view":{"stroke":"#404040","strokeWidth":1},
"title":{"font":"Liberation Sans","fontSize":9,"fontWeight":"normal","color":"#000"},
"header":{"labels":false,"labelPadding":0,"titlePadding":0,"labelExpr":"''"},
"headerFacet":{"labels":false,"labelPadding":0,"titlePadding":0,"labelExpr":"''"},
"background":"white"
}
}
